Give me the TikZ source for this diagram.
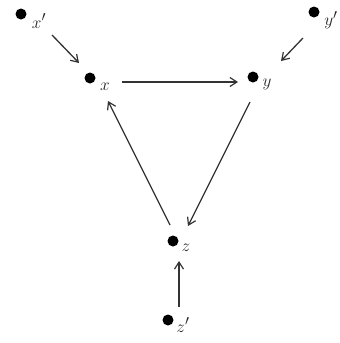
\documentclass[tikz,border=0pt]{standalone}
\usetikzlibrary{arrows.meta,calc}
\begin{document}
\begin{tikzpicture}[x=1pt,y=-1pt,
  dot/.style={circle,fill=black,inner sep=0pt,minimum size=11pt},
  lab/.style={font=\fontsize{19}{22}\selectfont,inner sep=0pt,text=black!85},
  arr/.style={line width=1.3pt,draw=black!80,-{Straight Barb[length=7pt,width=9pt,line width=1.2pt]}}]
\useasboundingbox (0,0) rectangle (340,343);
\node[dot] (xp) at (21,14) {};
\node[lab] (xpl) at (39,21) {$x'$};
\node[dot] (x) at (90,78) {};
\node[lab] (xl) at (105,87) {$x$};
\node[dot] (yp) at (314,12) {};
\node[lab] (ypl) at (331,20) {$y'$};
\node[dot] (y) at (253,77) {};
\node[lab] (yl) at (267,84) {$y$};
\node[dot] (z) at (173,241) {};
\node[lab] (zl) at (186,248) {$z$};
\node[dot] (zp) at (168,320) {};
\node[lab] (zpl) at (183,325) {$z'$};
\draw[arr] ($(xp)+(31,21)$) -- ($(x)+(-11,-15)$);
\draw[arr] ($(yp)+(-11,26)$) -- ($(y)+(28,-16)$);
\draw[arr] ($(x)+(32,4)$) -- ($(y)+(-15,5)$);
\draw[arr] ($(y)+(-3,25)$) -- ($(z)+(15,-15)$);
\draw[arr] ($(z)+(-3,-16)$) -- ($(x)+(18,23)$);
\draw[arr] ($(zp)+(11,-13)$) -- ($(z)+(6,20)$);
\end{tikzpicture}
\end{document}
